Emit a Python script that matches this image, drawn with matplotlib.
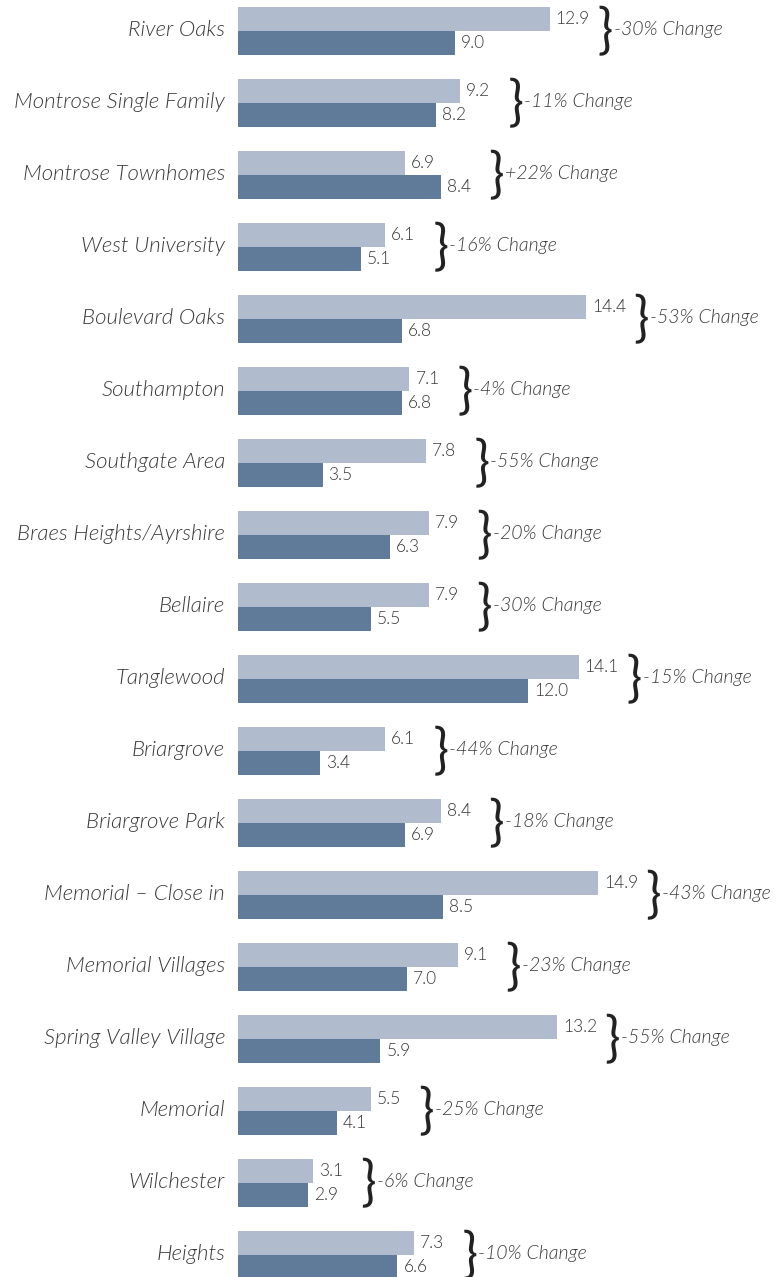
import matplotlib
matplotlib.use("Agg")
import matplotlib.pyplot as plt
import numpy as np
from matplotlib.textpath import TextPath
from matplotlib.patches import PathPatch
from matplotlib.font_manager import FontProperties
from matplotlib.transforms import Affine2D, ScaledTranslation

categories = ["River Oaks", "Montrose Single Family", "Montrose Townhomes", "West University",
              "Boulevard Oaks", "Southampton", "Southgate Area", "Braes Heights/Ayrshire",
              "Bellaire", "Tanglewood", "Briargrove", "Briargrove Park", "Memorial \u2013 Close in",
              "Memorial Villages", "Spring Valley Village", "Memorial", "Wilchester", "Heights"]
before = [12.9, 9.2, 6.9, 6.1, 14.4, 7.1, 7.8, 7.9, 7.9, 14.1, 6.1, 8.4, 14.9, 9.1, 13.2, 5.5, 3.1, 7.3]
after = [9.0, 8.2, 8.4, 5.1, 6.8, 6.8, 3.5, 6.3, 5.5, 12.0, 3.4, 6.9, 8.5, 7.0, 5.9, 4.1, 2.9, 6.6]
changes = ["-30%", "-11%", "+22%", "-16%", "-53%", "-4%", "-55%", "-20%", "-30%", "-15%",
           "-44%", "-18%", "-43%", "-23%", "-55%", "-25%", "-6%", "-10%"]

light = "#B1BBCE"
dark = "#607A99"
txt = "#3a3a3a"

W, H = 776, 1277
fig = plt.figure(figsize=(W / 100, H / 100), dpi=100)
ax = fig.add_axes([238 / W, 0, 1 - 238 / W, 1])

pitch = 72.0
y = np.arange(len(categories))
bh = 24 / pitch
ax.barh(y - bh / 2, before, height=bh, color=light)
ax.barh(y + bh / 2, after, height=bh, color=dark)

ax.set_xlim(0, (W - 238) / 24.15)
top = -30.7 / pitch
ax.set_ylim(top + H / pitch, top)
ax.axis("off")

cat_font = dict(family="Lato", style="italic", weight=300, fontsize=16, color=txt)
chg_font = dict(family="Lato", style="italic", weight=300, fontsize=14, color=txt)
val_font = dict(family="Lato", weight=300, fontsize=12.5, color=txt)

# brace glyph, stretched to span both bars
bp = TextPath((0, 0), "}", size=1, prop=FontProperties(family="Lato", weight="normal"))
ext = bp.get_extents()
brace_w, brace_h = 12.0, 50.0
base = (Affine2D()
        .translate(-ext.x0, -(ext.y0 + ext.y1) / 2)
        .scale(brace_w / ext.width, brace_h / ext.height))

for i, c in enumerate(categories):
    ax.annotate(c, xy=(0, i), xytext=(-13, 1), textcoords="offset pixels",
                ha="right", va="center", **cat_font)
    ax.annotate(f"{before[i]:.1f}", xy=(before[i], i - bh / 2), xytext=(6, 0),
                textcoords="offset pixels", ha="left", va="center", **val_font)
    ax.annotate(f"{after[i]:.1f}", xy=(after[i], i + bh / 2), xytext=(6, 0),
                textcoords="offset pixels", ha="left", va="center", **val_font)
    m = max(before[i], after[i])
    t = base + Affine2D().translate(50, 0) + ScaledTranslation(m, i, ax.transData)
    ax.add_patch(PathPatch(bp, transform=t, facecolor="#222222", edgecolor="none", clip_on=False))
    ax.annotate(changes[i] + " Change", xy=(m, i), xytext=(64, 1), textcoords="offset pixels",
                ha="left", va="center", **chg_font)

fig.savefig("out.png", dpi=100)
